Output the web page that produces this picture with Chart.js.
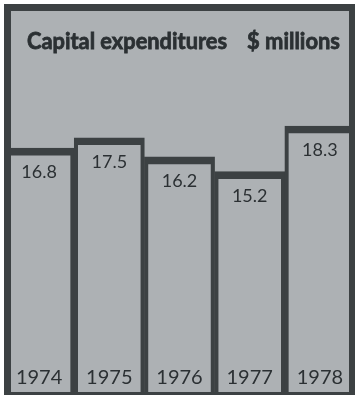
<!DOCTYPE html>
<html>
<head>
<meta charset="utf-8">
<title>Capital expenditures</title>
<script src="https://cdn.jsdelivr.net/npm/chart.js@4"></script>
<style>
  html, body { margin: 0; padding: 0; background: #fff; }
  canvas { display: block; }
</style>
</head>
<body>
<canvas id="chart-area" width="355" height="395"></canvas>
<script>
var years    = ['1974', '1975', '1976', '1977', '1978'];
var spending = [16.8, 17.5, 16.2, 15.2, 18.3];

var paper = '#adb1b4';
var ink   = '#3c4143';
var text  = '#2b3033';

// grey panel behind the bars, frame and title on top
var panel = {
    id: 'panel',
    beforeDatasetsDraw: function (chart) {
        var ctx = chart.ctx, a = chart.chartArea;
        ctx.save();
        ctx.fillStyle = paper;
        ctx.fillRect(a.left, a.top, a.right - a.left, a.bottom - a.top);
        ctx.restore();
    },
    afterDatasetsDraw: function (chart) {
        var ctx = chart.ctx, a = chart.chartArea;
        ctx.save();
        ctx.fillStyle = ink;
        ctx.fillRect(a.left, a.top, a.right - a.left, 7);
        ctx.fillRect(a.left, a.top, 7, a.bottom - a.top);
        ctx.fillRect(a.right - 6, a.top, 6, a.bottom - a.top);
        ctx.fillRect(a.left, a.bottom - 3, a.right - a.left, 3);

        // heavy title: fill plus a thin stroke to thicken the strokes
        ctx.fillStyle = text;
        ctx.strokeStyle = text;
        ctx.lineWidth = 0.8;
        ctx.font = 'bold 23px Lato';
        ctx.textBaseline = 'alphabetic';
        ctx.textAlign = 'left';
        ctx.fillText('Capital expenditures', 27, 49, 200);
        ctx.strokeText('Capital expenditures', 27, 49, 200);
        ctx.fillText('$ millions', 247, 49, 93);
        ctx.strokeText('$ millions', 247, 49, 93);
        ctx.restore();
    }
};

// values just under the top of each bar, years along the bottom
var labels = {
    id: 'labels',
    afterDraw: function (chart) {
        var ctx = chart.ctx;
        var meta = chart.getDatasetMeta(0);
        var xs = chart.scales.x;
        ctx.save();
        ctx.fillStyle = text;
        ctx.textAlign = 'center';
        ctx.textBaseline = 'alphabetic';
        ctx.font = '18px Lato';
        meta.data.forEach(function (bar, i) {
            ctx.fillText(spending[i].toFixed(1), bar.x, bar.y + 30);
        });
        ctx.font = '20px Lato';
        chart.data.labels.forEach(function (yr, i) {
            ctx.fillText(yr, xs.getPixelForValue(i), 384);
        });
        ctx.restore();
    }
};

var config = {
    type: 'bar',
    data: {
        labels: years,
        datasets: [{
            data: spending,
            backgroundColor: 'rgba(0,0,0,0)',
            borderColor: ink,
            borderWidth: { top: 7, left: 3.5, right: 3.5, bottom: 0 },
            borderSkipped: false,
            categoryPercentage: 1,
            barPercentage: 1
        }]
    },
    options: {
        responsive: false,
        animation: false,
        layout: { padding: { left: 4, right: 0, top: 4, bottom: 0 } },
        plugins: {
            legend: { display: false },
            title: { display: false },
            tooltip: { enabled: false }
        },
        scales: {
            x: { display: false },
            y: { display: false, min: 0, max: 26.6 }
        }
    },
    plugins: [panel, labels]
};

var ctx = document.getElementById('chart-area').getContext('2d');
window.myBar = new Chart(ctx, config);
</script>
</body>
</html>
